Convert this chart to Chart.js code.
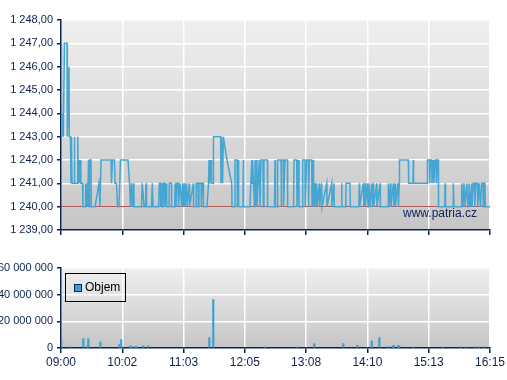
<!DOCTYPE html>
<html>
<head>
<meta charset="utf-8">
<script src="https://cdn.jsdelivr.net/npm/chart.js@4/dist/chart.umd.min.js"></script>
<style>
    body { margin: 0; background: #ffffff; }
    #wrap { position: relative; width: 507px; height: 380px; overflow: hidden; font-family: Arial, "Liberation Sans", sans-serif; }
    #priceBox { position: absolute; left: 0; top: 0; }
    #volumeBox { position: absolute; left: 0; top: 250px; }
    .legend { position: absolute; left: 65px; top: 273px; width: 59px; height: 27px; border: 1px solid #000; font-size: 12px; color: #000; }
    .legend .mark { position: absolute; left: 8px; top: 10px; width: 6px; height: 6px; background: #3d9fcf; border: 1px solid #0b2350; }
    .legend .txt { position: absolute; left: 19px; top: 6px; }
    .site { position: absolute; left: 403px; top: 206px; font-size: 12px; color: #102461; }
</style>
</head>
<body>
<div id="wrap">
    <div id="priceBox"><canvas id="priceChart" width="507" height="245"></canvas></div>
    <div id="volumeBox"><canvas id="volumeChart" width="507" height="130"></canvas></div>
    <div class="legend"><div class="mark"></div><div class="txt">Objem</div></div>
    <div class="site">www.patria.cz</div>
</div>
<script>
// Popisky časové osy (09:00 - 16:15)
const TIME_LABELS = ['09:00', '10:02', '11:03', '12:05', '13:08', '14:10', '15:13', '16:15'];
const SESSION_MINUTES = 435;

// Cenová osa
const PRICE_TICKS = [1239, 1240, 1241, 1242, 1243, 1244, 1245, 1246, 1247, 1248];
const PREV_CLOSE = 1240;

// Obchody: minuty od 09:00 a cena
const PRICE_MIN = [
    0.0, 0.2, 0.6, 0.9, 1.3, 1.6, 2.0, 2.3, 3.5, 6.1, 6.4, 8.1, 8.4, 9.6, 10.1, 10.6, 11.2, 13.2, 13.5, 14.0,
    16.7, 17.0, 17.5, 18.3, 18.6, 19.8, 20.1, 21.8, 22.3, 24.8, 25.0, 25.6, 26.7, 27.0, 27.9, 28.4, 28.9, 30.4, 30.7, 34.5,
    38.5, 39.5, 40.6, 50.7, 51.2, 52.2, 54.2, 54.8, 56.3, 57.3, 58.8, 60.3, 67.9, 69.5, 70.5, 71.5, 72.5, 73.5, 74.0,
    81.6, 82.4, 84.2, 85.7, 86.2, 86.7, 91.8, 92.6, 93.3, 98.9, 99.7, 100.7, 101.0, 101.6, 102.1, 103.4, 103.7, 104.9, 105.3,
    106.8, 107.2, 109.5, 109.8, 112.0, 112.2, 115.4, 115.6, 116.6, 117.6, 118.9, 119.1, 120.7, 122.4, 123.4, 124.2, 125.2,
    125.7, 127.5, 127.8, 130.1, 130.4, 134.2, 134.5, 136.9, 137.1, 138.9, 139.2, 139.9, 142.0, 142.3, 143.0, 144.3, 144.5,
    148.0, 149.6, 150.1, 150.6, 152.1, 152.6, 154.4, 154.6, 161.9, 162.2, 162.7, 163.8, 164.6, 168.3, 173.1, 173.4, 175.9,
    176.4, 178.5, 178.8, 179.8, 180.1, 184.5, 184.9, 185.2, 191.6, 193.4, 193.7, 194.2, 196.2, 196.7, 197.0, 198.4, 198.7,
    201.1, 201.8, 202.8, 204.8, 205.1, 205.8, 209.2, 209.5, 216.5, 217.0, 217.5, 219.5, 219.7, 223.1, 223.4, 223.7, 225.4,
    225.7, 227.1, 229.5, 229.8, 235.8, 236.3, 239.0, 239.3, 240.6, 241.3, 244.9, 245.1, 247.4, 247.7, 249.1, 250.8, 251.1,
    251.8, 254.2, 254.5, 255.8, 256.1, 257.6, 257.9, 259.3, 259.6, 261.9, 262.2, 264.3, 264.7, 269.4, 269.7, 274.5, 274.8,
    276.8, 277.1, 284.4, 284.6, 284.9, 288.8, 289.0, 293.0, 293.4, 302.0, 302.5, 302.8, 306.5, 307.2, 308.3, 308.6, 310.6,
    311.3, 312.3, 313.3, 315.0, 315.9, 316.7, 317.0, 320.1, 320.4, 323.5, 323.8, 331.6, 331.9, 332.6, 334.1, 334.6, 337.0,
    337.7, 338.7, 339.0, 341.4, 342.2, 343.0, 343.2, 352.2, 352.5, 356.9, 357.2, 357.5, 371.4, 371.6, 373.5, 373.8, 374.7,
    375.9, 376.2, 377.5, 378.2, 379.2, 380.3, 380.6, 381.8, 382.6, 382.8, 389.1, 389.4, 389.9, 397.5, 397.8, 398.5, 406.1,
    406.3, 407.6, 408.6, 409.7, 411.4, 412.7, 413.7, 415.2, 416.4, 416.8, 418.1, 419.3, 419.6, 420.8, 422.3, 422.6, 423.9,
    425.4, 426.4, 427.9, 428.2, 428.9, 429.9, 430.2, 435.0
];
const PRICE = [
    1247, 1243, 1244, 1243, 1244, 1243, 1244, 1243, 1247, 1247, 1243, 1246, 1243, 1243, 1241, 1243, 1241, 1241, 1243, 1241,
    1241, 1243, 1241, 1242, 1241, 1242, 1241, 1241, 1240, 1240, 1241, 1240, 1241, 1240, 1242, 1240, 1242, 1242, 1240, 1240,
    1241, 1240, 1242, 1242, 1241, 1242, 1242, 1241, 1241, 1240, 1240, 1242, 1242, 1241, 1240, 1241, 1240, 1241, 1240,
    1240, 1241, 1240, 1240, 1241, 1240, 1240, 1241, 1240, 1240, 1241, 1241, 1240, 1241, 1240, 1240, 1241, 1241, 1240,
    1241, 1240, 1240, 1241, 1241, 1240, 1240, 1241, 1240, 1241, 1241, 1240, 1241, 1240, 1241, 1240, 1241,
    1240, 1241, 1240, 1241, 1240, 1241, 1240, 1240, 1241, 1241, 1240, 1241, 1241, 1240, 1241, 1241, 1240,
    1240, 1241, 1242, 1241, 1242, 1241, 1241, 1243, 1243, 1241, 1243, 1241, 1243, 1242, 1241, 1240, 1240,
    1242, 1242, 1240, 1242, 1240, 1240, 1242, 1240, 1240, 1242, 1241, 1242, 1240, 1242, 1240, 1242, 1240,
    1242, 1240, 1242, 1242, 1240, 1242, 1242, 1240, 1240, 1242, 1240, 1240, 1242, 1242, 1240, 1242, 1242,
    1240, 1242, 1242, 1240, 1240, 1242, 1242, 1240, 1242, 1240, 1240, 1242, 1242, 1240, 1242, 1242, 1240,
    1242, 1242, 1240, 1242, 1240, 1241, 1240, 1241, 1240, 1241, 1240, 1241, 1240, 1241, 1240, 1241, 1240,
    1241, 1240, 1240, 1241, 1240, 1240, 1241, 1241, 1240, 1240, 1241, 1240, 1241, 1240, 1241, 1240, 1241,
    1240, 1241, 1240, 1241, 1240, 1241, 1240, 1241, 1240, 1241, 1240, 1240, 1241, 1240, 1241, 1240, 1241,
    1240, 1241, 1240, 1241, 1240, 1241, 1242, 1242, 1241, 1241, 1242, 1241, 1241, 1242, 1242, 1241, 1242,
    1242, 1241, 1242, 1241, 1242, 1242, 1241, 1242, 1242, 1240, 1240, 1241, 1240, 1240, 1241, 1240, 1240,
    1241, 1240, 1241, 1240, 1241, 1240, 1241, 1240, 1241, 1240, 1241, 1241, 1240, 1241, 1241, 1240, 1241,
    1240, 1241, 1241, 1240, 1241, 1241, 1240, 1240
];

// Objem: minuty od 09:00 a počet kusů
const VOLUME_MIN = [
    0.3, 9.4, 22.6, 26.1, 27.7, 39.9, 59.1, 61.1, 70.3, 71.7, 75.0, 77.1, 83.5, 88.5, 150.4, 154.4,
    206.9, 239.6, 256.9, 286.3, 300.4, 315.1, 322.8, 331.9, 336.3, 337.4, 342.0, 343.0, 357.2, 387.0,
    405.3, 410.4, 420.5, 424.1, 429.2
];
const VOLUME = [
    6300000, 1000000, 7000000, 1000000, 7000000, 4500000, 2500000, 6300000, 1700000, 1000000, 1000000, 1000000,
    1700000, 1700000, 7800000, 36300000, 800000, 800000, 3300000, 3300000, 2000000, 5300000, 7800000, 1000000,
    1500000, 2000000, 2000000, 2000000, 800000, 800000, 800000, 800000, 800000, 800000, 800000
];
const VOLUME_TICKS = [0, 20000000, 40000000, 60000000];

const NAVY = '#0b2350';
const LABEL_FONT = { family: 'Arial, "Liberation Sans", sans-serif', size: 11 };

document.addEventListener('DOMContentLoaded', function() {
    initPriceChart();
    initVolumeChart();
});

// české formátování čísel: mezera jako oddělovač tisíců, čárka desetinná
function formatCz(value, decimals) {
    const parts = value.toFixed(decimals).split('.');
    const int = parts[0].replace(/\B(?=(\d{3})+(?!\d))/g, ' ');
    return parts.length > 1 ? int + ',' + parts[1] : int;
}

// šedý přechod pod grafem
const gradientBg = {
    id: 'gradientBg',
    beforeDraw(chart) {
        const a = chart.chartArea;
        const ctx = chart.ctx;
        const g = ctx.createLinearGradient(0, a.top, 0, a.bottom);
        g.addColorStop(0, '#efefef');
        g.addColorStop(1, '#c6c6c6');
        ctx.save();
        ctx.fillStyle = g;
        ctx.fillRect(a.left, a.top, a.right - a.left, a.bottom - a.top);
        ctx.restore();
    }
};

function timeAxis(showLabels, axisHeight) {
    return {
        type: 'linear',
        min: 0,
        max: SESSION_MINUTES,
        offset: false,
        afterBuildTicks: function(scale) {
            scale.ticks = TIME_LABELS.map((t, i) => ({ value: i * SESSION_MINUTES / (TIME_LABELS.length - 1) }));
        },
        afterFit: function(scale) { scale.height = axisHeight; },
        grid: { color: '#ffffff', tickColor: NAVY, tickLength: 5, lineWidth: 1.5, offset: false },
        border: { color: NAVY, width: 1.5 },
        ticks: {
            display: showLabels,
            autoSkip: false,
            maxRotation: 0,
            padding: 2,
            color: NAVY,
            font: { family: LABEL_FONT.family, size: 12 },
            callback: function(value, index) { return TIME_LABELS[index]; }
        }
    };
}

function initPriceChart() {
    const ctx = document.getElementById('priceChart');
    new Chart(ctx, {
        type: 'line',
        data: {
            datasets: [{
                data: PRICE_MIN.map((m, i) => ({ x: m, y: PRICE[i] })),
                borderColor: '#45a6d3',
                borderWidth: 1.5,
                pointRadius: 0,
                tension: 0,
                order: 1
            }, {
                data: [{ x: 0, y: PREV_CLOSE }, { x: SESSION_MINUTES, y: PREV_CLOSE }],
                borderColor: '#a33a30',
                borderWidth: 1,
                pointRadius: 0,
                order: 2
            }]
        },
        options: {
            responsive: false,
            animation: false,
            layout: { padding: { top: 20, right: 17, left: 0, bottom: 0 } },
            plugins: { legend: { display: false }, tooltip: { enabled: false } },
            scales: {
                x: timeAxis(false, 15),
                y: {
                    min: PRICE_TICKS[0],
                    max: PRICE_TICKS[PRICE_TICKS.length - 1],
                    afterBuildTicks: function(scale) { scale.ticks = PRICE_TICKS.map(v => ({ value: v })); },
                    afterFit: function(scale) { scale.width = 61; },
                    grid: { color: '#ffffff', tickColor: NAVY, tickLength: 4, lineWidth: 1.5 },
                    border: { color: NAVY, width: 1.5 },
                    ticks: {
                        padding: 4,
                        color: NAVY,
                        font: LABEL_FONT,
                        callback: function(value) { return formatCz(value, 2); }
                    }
                }
            }
        },
        plugins: [gradientBg]
    });
}

function initVolumeChart() {
    const ctx = document.getElementById('volumeChart');
    new Chart(ctx, {
        type: 'bar',
        data: {
            datasets: [{
                label: 'Objem',
                data: VOLUME_MIN.map((m, i) => ({ x: m, y: VOLUME[i] })),
                backgroundColor: '#3d9fcf',
                barThickness: 1.5
            }]
        },
        options: {
            responsive: false,
            animation: false,
            layout: { padding: { top: 18, right: 17, left: 0, bottom: 0 } },
            plugins: { legend: { display: false }, tooltip: { enabled: false } },
            scales: {
                x: timeAxis(true, 32),
                y: {
                    min: 0,
                    max: VOLUME_TICKS[VOLUME_TICKS.length - 1],
                    afterBuildTicks: function(scale) { scale.ticks = VOLUME_TICKS.map(v => ({ value: v })); },
                    afterFit: function(scale) { scale.width = 61; },
                    grid: { color: '#ffffff', tickColor: NAVY, tickLength: 4, lineWidth: 1.5 },
                    border: { color: NAVY, width: 1.5 },
                    ticks: {
                        padding: 4,
                        color: NAVY,
                        font: LABEL_FONT,
                        callback: function(value) { return formatCz(value, 0); }
                    }
                }
            }
        },
        plugins: [gradientBg]
    });
}
</script>
</body>
</html>
